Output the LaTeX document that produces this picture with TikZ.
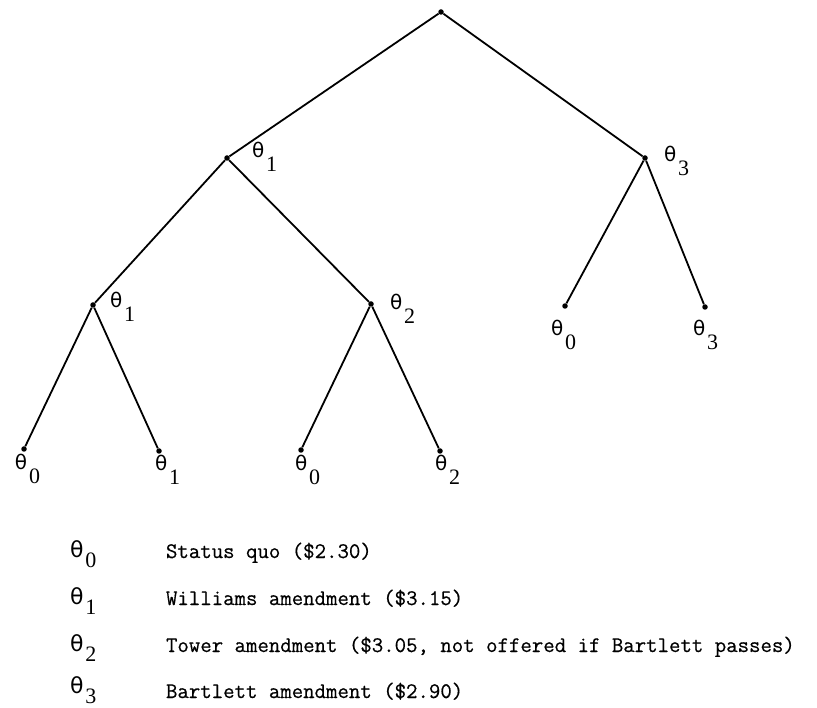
\documentclass[tikz,border=0pt]{standalone}
\usepackage{fontspec}
\newfontfamily\thfont{DejaVu Sans}
\newfontfamily\digfont{Liberation Serif}
\newfontfamily\legfont{Latin Modern Mono}[FakeBold=0.5]
\newcommand\thlab[1]{{\fontsize{20}{21}\thfont θ}\kern2pt\raisebox{-14pt}{\fontsize{22}{23}\digfont #1}}
\newcommand\thleg[1]{{\fontsize{22}{23}\thfont θ}\kern2pt\raisebox{-10pt}{\fontsize{22}{23}\digfont #1}}
\begin{document}
\begin{tikzpicture}[x=1pt,y=-1pt,
  vtx/.style={circle,fill=black,inner sep=0pt,minimum size=5.5pt},
  lbl/.style={anchor=base west,inner sep=0pt,outer sep=0pt},
  edge/.style={line width=1.8pt},
  legtext/.style={anchor=base west,inner sep=0pt,outer sep=0pt,font=\fontsize{22.2}{26}\legfont}]
\useasboundingbox (0,0) rectangle (817,708);
% vertices
\node[vtx] (root) at (441,12) {};
\node[vtx] (A) at (227,158) {};
\node[vtx] (B) at (645,158) {};
\node[vtx] (A1) at (93,305) {};
\node[vtx] (A2) at (371,304) {};
\node[vtx] (B0) at (565,306) {};
\node[vtx] (B3) at (705,307) {};
\node[vtx] (L1) at (24,449) {};
\node[vtx] (L2) at (159,451) {};
\node[vtx] (L3) at (301,450) {};
\node[vtx] (L4) at (440,451) {};
% edges
\draw[edge] (root) -- (A);
\draw[edge] (root) -- (B);
\draw[edge] (A) -- (A1);
\draw[edge] (A) -- (A2);
\draw[edge] (B) -- (B0);
\draw[edge] (B) -- (B3);
\draw[edge] (A1) -- (L1);
\draw[edge] (A1) -- (L2);
\draw[edge] (A2) -- (L3);
\draw[edge] (A2) -- (L4);
% tree labels
\node[lbl] (tA) at (252,158) {\thlab{1}};
\node[lbl] (tB) at (664,162) {\thlab{3}};
\node[lbl] (tA1) at (110,308) {\thlab{1}};
\node[lbl] (tA2) at (390,310) {\thlab{2}};
\node[lbl] (tB0) at (551,336) {\thlab{0}};
\node[lbl] (tB3) at (693,336) {\thlab{3}};
\node[lbl] (tL1) at (15,470) {\thlab{0}};
\node[lbl] (tL2) at (155,471) {\thlab{1}};
\node[lbl] (tL3) at (295,471) {\thlab{0}};
\node[lbl] (tL4) at (435,471) {\thlab{2}};
% legend
\node[lbl] (k0) at (70,557) {\thleg{0}};
\node[lbl] (k1) at (70,604) {\thleg{1}};
\node[lbl] (k2) at (70,651) {\thleg{2}};
\node[lbl] (k3) at (70,693) {\thleg{3}};
\node[legtext] (d0) at (166,558) {Status quo (\$2.30)};
\node[legtext] (d1) at (166,605) {Williams amendment (\$3.15)};
\node[legtext] (d2) at (166,652) {Tower amendment (\$3.05, not offered if Bartlett passes)};
\node[legtext] (d3) at (166,698) {Bartlett amendment (\$2.90)};
\end{tikzpicture}
\end{document}
